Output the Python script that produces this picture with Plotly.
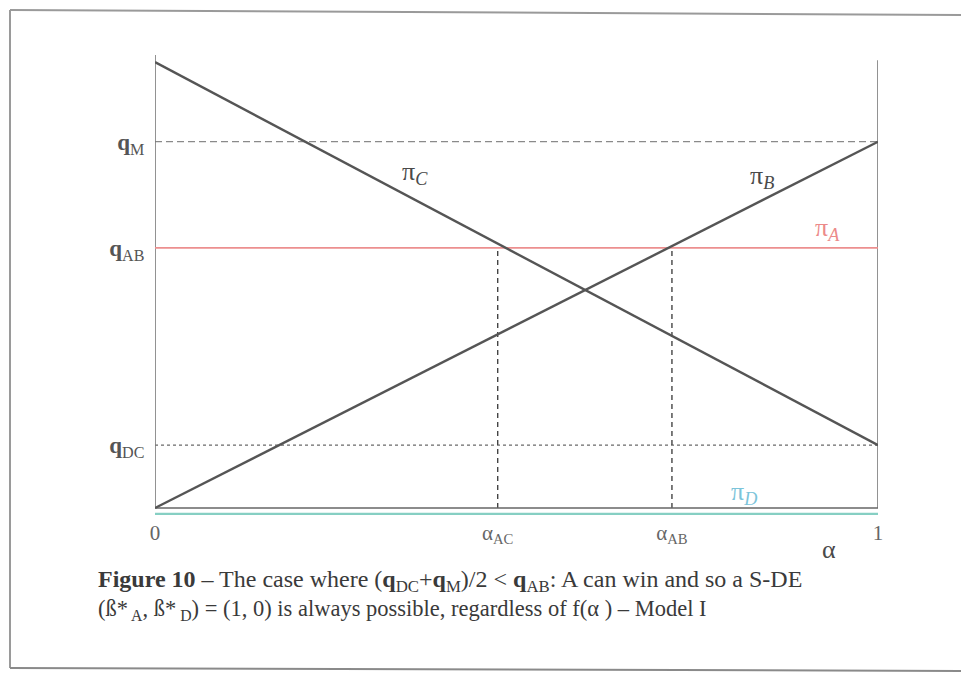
import plotly.graph_objects as go

# ---- data (arbitrary units) ----
alpha_ends = [0, 1]
pi_C = [1.205, 0.17]
pi_B = [0.0, 0.99]
pi_A = [0.703, 0.703]
pi_D = [-0.016, -0.016]
q_M = 0.99
q_AB = 0.703
q_DC = 0.17
alpha_AC = 0.474
alpha_AB = 0.715
left_axis_top = 1.224
right_axis_top = 1.21

x_tickvals = [0, alpha_AC, alpha_AB, 1]
x_ticktext = ["0", "α<sub>AC</sub>", "α<sub>AB</sub>", "1"]
y_tickvals = [q_DC, q_AB, q_M]
y_ticktext = ["<b>q</b><sub>DC</sub>", "<b>q</b><sub>AB</sub>", "<b>q</b><sub>M</sub>"]

FONT = "Liberation Serif"
DARK = "#555555"
TXT = "#4a4a4a"

fig = go.Figure()

def line(x, y, color, width, dash="solid"):
    fig.add_trace(go.Scatter(x=x, y=y, mode="lines", line=dict(color=color, width=width, dash=dash),
                             hoverinfo="skip", showlegend=False))

# reference levels
line(alpha_ends, [q_M, q_M], "#8a8a8a", 1.2, "7px,4px")
line(alpha_ends, [q_DC, q_DC], "#6a6a6a", 1.2, "dot")
# vertical dashed drops
line([alpha_AC, alpha_AC], [0, q_AB], "#444444", 1.4, "5px,4px")
line([alpha_AB, alpha_AB], [0, q_AB], "#444444", 1.4, "5px,4px")
# axes frame
line([0, 0], [0, left_axis_top], "#777777", 1.6)
line([1, 1], [0, right_axis_top], "#777777", 1.6)
line(alpha_ends, [0, 0], "#666666", 1.6)
# profit lines
line(alpha_ends, pi_D, "#86cfc3", 2.2)
line(alpha_ends, pi_A, "#ec8f8f", 1.8)
line(alpha_ends, pi_C, DARK, 2.4)
line(alpha_ends, pi_B, DARK, 2.4)

ann = []
def label(x, y, text, size=26, color=TXT, xref="x", yref="y", **kw):
    ann.append(dict(x=x, y=y, xref=xref, yref=yref, text=text, showarrow=False,
                    font=dict(family=FONT, size=size, color=color), **kw))

label(0.36, 0.905, "π<sub><i>C</i></sub>")
label(0.84, 0.895, "π<sub><i>B</i></sub>")
label(0.93, 0.755, "π<sub><i>A</i></sub>", color="#ec8a8a")
label(0.815, 0.04, "π<sub><i>D</i></sub>", color="#7cc4da")
label(-0.05, 1.16, "π<sub><i>i</i></sub>", size=27)

# paper coords from reference pixel positions (plot area: x 155..878, y 50..518)
def px(p):
    return (p - 155) / 723
def py(p):
    return (518 - p) / 468

label(px(838), py(566), "α", size=26, xref="paper", yref="paper")
label(px(96), py(598),
      "<b>Figure 10</b> – The case where (<b>q</b><sub>DC</sub>+<b>q</b><sub>M</sub>)/2 &lt; <b>q</b><sub>AB</sub>: "
      "A can win and so a S-DE",
      size=24, color="#3a3a3a", xref="paper", yref="paper", xanchor="left", align="left")
label(px(96), py(626),
      "(ß*<sub> A</sub>, ß*<sub> D</sub>) = (1, 0) is always possible, regardless of f(α ) – Model I",
      size=22.5, color="#3a3a3a", xref="paper", yref="paper", xanchor="left", align="left")

shapes = [
    dict(type="line", xref="paper", yref="paper", x0=px(10), y0=py(10), x1=px(969), y1=py(15),
         line=dict(color="#9a9a9a", width=2)),
    dict(type="line", xref="paper", yref="paper", x0=px(10), y0=py(10), x1=px(10), y1=py(668),
         line=dict(color="#9a9a9a", width=2)),
    dict(type="line", xref="paper", yref="paper", x0=px(10), y0=py(668), x1=px(969), y1=py(671),
         line=dict(color="#8a8a8a", width=2)),
]

fig.update_layout(
    width=961, height=667,
    margin=dict(l=147, r=91, t=42, b=157),
    paper_bgcolor="white", plot_bgcolor="white",
    annotations=ann, shapes=shapes,
    xaxis=dict(range=[0, 1], showgrid=False, zeroline=False, showline=False,
               tickvals=x_tickvals, ticktext=x_ticktext, ticks="",
               tickfont=dict(family=FONT, size=21, color="#666666")),
    yaxis=dict(range=[-10 / 370, (518 - 50) / 370 - 10 / 370], showgrid=False, zeroline=False, showline=False,
               tickvals=y_tickvals, ticktext=y_ticktext, ticks="outside", ticklen=5, tickcolor="white",
               tickfont=dict(family=FONT, size=23, color="#555555")),
)

fig.write_html("out.html")
